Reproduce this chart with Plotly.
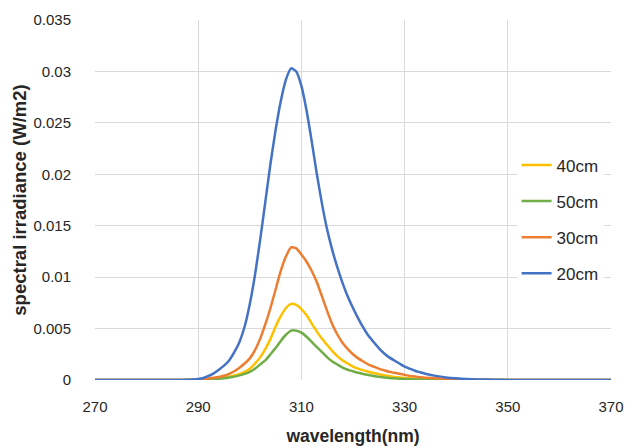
import plotly.graph_objects as go

wavelength = ([270, 275, 280, 285] + list(range(286, 335)) +
              [336, 338, 340, 342, 344, 346, 348, 350, 355, 360, 365, 370])

irr_20cm = [0, 0, 0, 0,
            0.000005, 0.00001, 0.00002, 0.00005,
            0.0001, 0.0002, 0.0004, 0.00065, 0.0010, 0.0014, 0.0019, 0.0027, 0.0037, 0.0052,
            0.0074, 0.0102, 0.0136, 0.0173, 0.0210, 0.0243, 0.0271, 0.0292, 0.0303, 0.0300,
            0.0286, 0.0262, 0.0232, 0.0200, 0.0171, 0.0146, 0.0126, 0.0109, 0.0094, 0.0081,
            0.0070, 0.0060, 0.0051, 0.0043, 0.0037, 0.0031, 0.0026, 0.0022, 0.0019, 0.0016,
            0.0013, 0.0011, 0.0009, 0.00075, 0.0006,
            0.0004, 0.00025, 0.00016, 0.0001, 0.00006, 0.00004, 0.00002, 0.00001,
            0, 0, 0, 0]

irr_30cm = [0, 0, 0, 0,
            0, 0, 0.00001, 0.00003,
            0.00005, 0.00009, 0.00015, 0.00022, 0.0003, 0.00042, 0.0006, 0.00085, 0.0012, 0.0016,
            0.0021, 0.0029, 0.0040, 0.0054, 0.0070, 0.0088, 0.0106, 0.0120, 0.0129, 0.0128,
            0.0122, 0.0115, 0.0106, 0.0095, 0.0081, 0.0067, 0.0054, 0.0044, 0.0036, 0.0030,
            0.0025, 0.0021, 0.0018, 0.0015, 0.0013, 0.0011, 0.00095, 0.0008, 0.0007, 0.0006,
            0.0005, 0.0004, 0.00033, 0.00028, 0.00023,
            0.00016, 0.00011, 0.00007, 0.00005, 0.00003, 0.00002, 0.00001, 0,
            0, 0, 0, 0]

irr_40cm = [0, 0, 0, 0,
            0, 0, 0.00001, 0.00002,
            0.00003, 0.00005, 0.00008, 0.00012, 0.00017, 0.00024, 0.00033, 0.00045, 0.0006, 0.0008,
            0.0011, 0.0016, 0.0022, 0.0030, 0.0040, 0.0052, 0.0062, 0.0070, 0.0074, 0.0073,
            0.0069, 0.0063, 0.0055, 0.0047, 0.0040, 0.0034, 0.0028, 0.0023, 0.0019, 0.0016,
            0.0013, 0.0011, 0.00095, 0.0008, 0.00068, 0.00057, 0.00047, 0.00038, 0.0003, 0.00025,
            0.0002, 0.00016, 0.00013, 0.00011, 0.00009,
            0.00006, 0.00004, 0.00003, 0.00002, 0.00001, 0, 0, 0,
            0, 0, 0, 0]

irr_50cm = [0, 0, 0, 0,
            0, 0, 0, 0.00001,
            0.00002, 0.00003, 0.00005, 0.00008, 0.00012, 0.00017, 0.00024, 0.00033, 0.00045, 0.0006,
            0.0008, 0.0011, 0.0015, 0.0019, 0.0025, 0.0031, 0.0038, 0.0044, 0.0048, 0.0048,
            0.0046, 0.0042, 0.0037, 0.0032, 0.0027, 0.0022, 0.0018, 0.0015, 0.0012, 0.0010,
            0.00085, 0.0007, 0.00058, 0.00048, 0.00039, 0.00031, 0.00025, 0.0002, 0.00016, 0.00013,
            0.0001, 0.00008, 0.00006, 0.00005, 0.00004,
            0.00003, 0.00002, 0.00001, 0, 0, 0, 0, 0,
            0, 0, 0, 0]

series_names = ["40cm", "50cm", "30cm", "20cm"]
series_colors = ["#FFC000", "#70AD47", "#ED7D31", "#4472C4"]
series_values = [irr_40cm, irr_50cm, irr_30cm, irr_20cm]

x_ticks = [270, 290, 310, 330, 350, 370]
y_ticks = [0, 0.005, 0.01, 0.015, 0.02, 0.025, 0.03, 0.035]
y_tick_labels = ["0", "0.005", "0.01", "0.015", "0.02", "0.025", "0.03", "0.035"]

fig = go.Figure()
for name, color, vals in zip(series_names, series_colors, series_values):
    fig.add_trace(go.Scatter(
        x=wavelength, y=vals, name=name, mode="lines",
        line=dict(color=color, width=2.5, shape="spline", smoothing=0.5),
        legendgroup=name,
    ))

font_family = "Liberation Sans, Arial, sans-serif"
text_color = "#262626"
fig.update_layout(
    width=625, height=448,
    margin=dict(l=95, r=14, t=20, b=68, autoexpand=False),
    paper_bgcolor="white", plot_bgcolor="white",
    font=dict(family=font_family, size=15, color=text_color),
    showlegend=True,
    legend=dict(
        x=0.817, y=0.646, xanchor="left", yanchor="top",
        bgcolor="white", borderwidth=0,
        font=dict(size=17, color=text_color),
        tracegroupgap=11, traceorder="grouped",
        itemwidth=30,
    ),
)
fig.update_xaxes(
    range=[270, 370], tickvals=x_ticks, automargin=False,
    showgrid=True, gridcolor="#d9d9d9", gridwidth=1,
    zeroline=False, showline=False,
    ticks="outside", ticklen=0, ticklabelstandoff=13,
    title=dict(text="<b>wavelength(nm)</b>", font=dict(size=17.5, color=text_color), standoff=15),
    tickfont=dict(size=15, color=text_color),
)
fig.update_yaxes(
    range=[0, 0.035], tickvals=y_ticks, ticktext=y_tick_labels, automargin=False,
    showgrid=True, gridcolor="#d9d9d9", gridwidth=1,
    zeroline=False, showline=False,
    ticks="outside", ticklen=0, ticklabelstandoff=20,
    title=dict(text="<b>spectral irradiance (W/m2)</b>", font=dict(size=18.5, color=text_color), standoff=1),
    tickfont=dict(size=15, color=text_color),
)

# Remove the browser's default 8px page margin so the 625x448 figure fills the window.
fig.write_html(
    "out.html",
    config={"displayModeBar": False},
    post_script="document.body.style.margin='0';document.body.style.overflow='hidden';",
)
